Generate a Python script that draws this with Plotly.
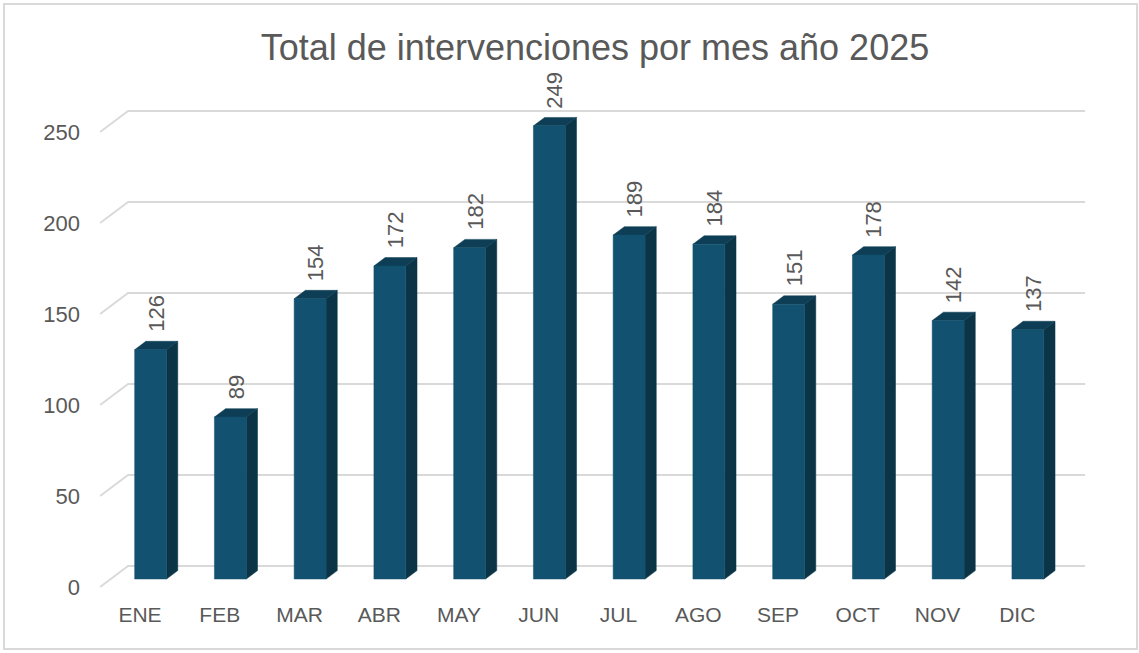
import plotly.graph_objects as go

months = ["ENE", "FEB", "MAR", "ABR", "MAY", "JUN", "JUL", "AGO", "SEP", "OCT", "NOV", "DIC"]
values = [126, 89, 154, 172, 182, 249, 189, 184, 151, 178, 142, 137]
grid_values = [0, 50, 100, 150, 200, 250]
title_text = "Total de intervenciones por mes año 2025"

# oblique projection parameters (in data units)
DEPTH_X = 0.351      # category units for full depth
DEPTH_Y = 11.54      # value units for full depth
D_FRONT = 0.38       # bar front face depth fraction
D_BAR = 0.40         # bar depth fraction
BAR_W = 0.40

FRONT_COL = "#12516F"
SIDE_COL = "#0B3446"
TOP_COL = "#0E3E55"
GRID_COL = "#D9D9D9"
TEXT_COL = "#595959"
FONT = "Liberation Sans"

fig = go.Figure()

# gridlines: diagonal on left + back wall
n = len(months)
gx, gy = [], []
for g in grid_values:
    gx += [-0.5, -0.5 + DEPTH_X, n - 0.5 + DEPTH_X, None]
    gy += [g, g + DEPTH_Y, g + DEPTH_Y, None]
fig.add_trace(go.Scatter(x=gx, y=gy, mode="lines", line=dict(color=GRID_COL, width=1.8),
                         hoverinfo="skip", showlegend=False))

# bars
fx, fy, sx, sy, tx, ty = [], [], [], [], [], []
bx = D_FRONT * DEPTH_X
by = D_FRONT * DEPTH_Y
ddx = D_BAR * DEPTH_X
ddy = D_BAR * DEPTH_Y
for i, v in enumerate(values):
    x0 = i + bx - BAR_W / 2
    x1 = i + bx + BAR_W / 2
    b = by
    fx += [x0, x1, x1, x0, x0, None]
    fy += [b, b, b + v, b + v, b, None]
    sx += [x1, x1 + ddx, x1 + ddx, x1, x1, None]
    sy += [b, b + ddy, b + ddy + v, b + v, b, None]
    tx += [x0, x1, x1 + ddx, x0 + ddx, x0, None]
    ty += [b + v, b + v, b + v + ddy, b + v + ddy, b + v, None]

for xs, ys, col in [(sx, sy, SIDE_COL), (tx, ty, TOP_COL), (fx, fy, FRONT_COL)]:
    fig.add_trace(go.Scatter(x=xs, y=ys, mode="lines", fill="toself", fillcolor=col,
                             line=dict(color=col, width=0.5), hoverinfo="skip", showlegend=False))

# data labels
for i, v in enumerate(values):
    fig.add_annotation(x=i + bx + ddx / 2, y=by + v + ddy + 4, text=str(v), textangle=-90,
                       showarrow=False, xanchor="center", yanchor="bottom",
                       font=dict(family=FONT, size=22, color=TEXT_COL))

# outer border
fig.add_shape(type="rect", xref="paper", yref="paper",
              x0=-91 / 1000, x1=1042 / 1000, y0=-49 / 540, y1=596 / 540,
              line=dict(color=GRID_COL, width=2), fillcolor="rgba(0,0,0,0)", layer="below")

fig.update_layout(
    width=1139, height=653,
    margin=dict(l=95, r=44, t=60, b=53),
    paper_bgcolor="white", plot_bgcolor="white",
    title=dict(text=title_text, x=0.5, xref="paper", xanchor="center", y=1 - 47 / 653, yanchor="middle",
               font=dict(family=FONT, size=36, color=TEXT_COL)),
    xaxis=dict(range=[-0.564, 11.975], tickmode="array", tickvals=list(range(n)), ticktext=months,
               showgrid=False, zeroline=False, showline=False, ticks="",
               tickfont=dict(family=FONT, size=21, color=TEXT_COL), fixedrange=True),
    yaxis=dict(range=[-7.143, 289.56], tickmode="array", tickvals=grid_values,
               showgrid=False, zeroline=False, showline=False, ticks="",
               ticklabelstandoff=14,
               tickfont=dict(family=FONT, size=22, color=TEXT_COL), fixedrange=True),
    showlegend=False,
)

fig.write_html("out.html", config={"displayModeBar": False},
               post_script="document.body.style.margin='0';document.body.style.overflow='hidden';")
